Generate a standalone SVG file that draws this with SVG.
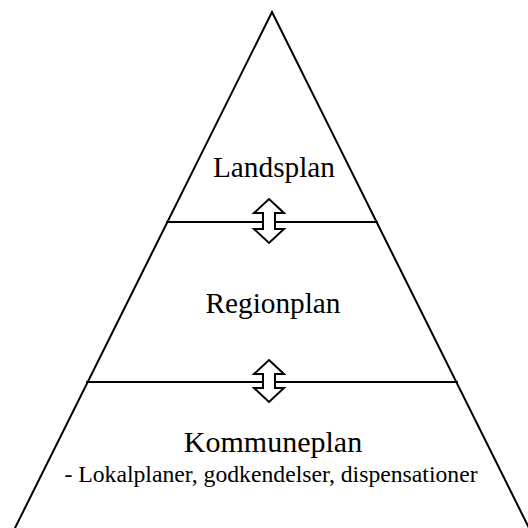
<svg xmlns="http://www.w3.org/2000/svg" width="528" height="528" viewBox="0 0 528 528">
<style>
.t{font-family:"Liberation Serif","Times New Roman",serif;fill:#000;text-anchor:middle}
.ln{stroke:#000;stroke-width:2;fill:none}
.ar{fill:#fff;stroke:#000;stroke-width:2;stroke-linejoin:miter}
</style>
<rect width="528" height="528" fill="#fff"/>
<g id="pyramid">
<polyline class="ln" points="14,530 272,12 530,530"/>
</g>
<g id="connectors">
<line class="ln" x1="166" y1="222" x2="378" y2="222"/>
<line class="ln" x1="86" y1="382" x2="458" y2="382"/>
<path class="ar" d="M269,199 L284,213 L275,213 L275,229 L284,229 L269,243 L254,229 L263,229 L263,213 L254,213 Z"/>
<path class="ar" d="M269,360 L284,374 L275,374 L275,388 L284,388 L269,402 L254,388 L263,388 L263,374 L254,374 Z"/>
</g>
<g id="landsplan"><text class="t" x="274" y="177" font-size="29.3">Landsplan</text></g>
<g id="regionplan"><text class="t" x="273" y="313" font-size="29.3">Regionplan</text></g>
<g id="kommuneplan">
<text class="t" x="273" y="452" font-size="30">Kommuneplan</text>
<text class="t" x="271" y="482" font-size="23.7">- Lokalplaner, godkendelser, dispensationer</text>
</g>
</svg>
